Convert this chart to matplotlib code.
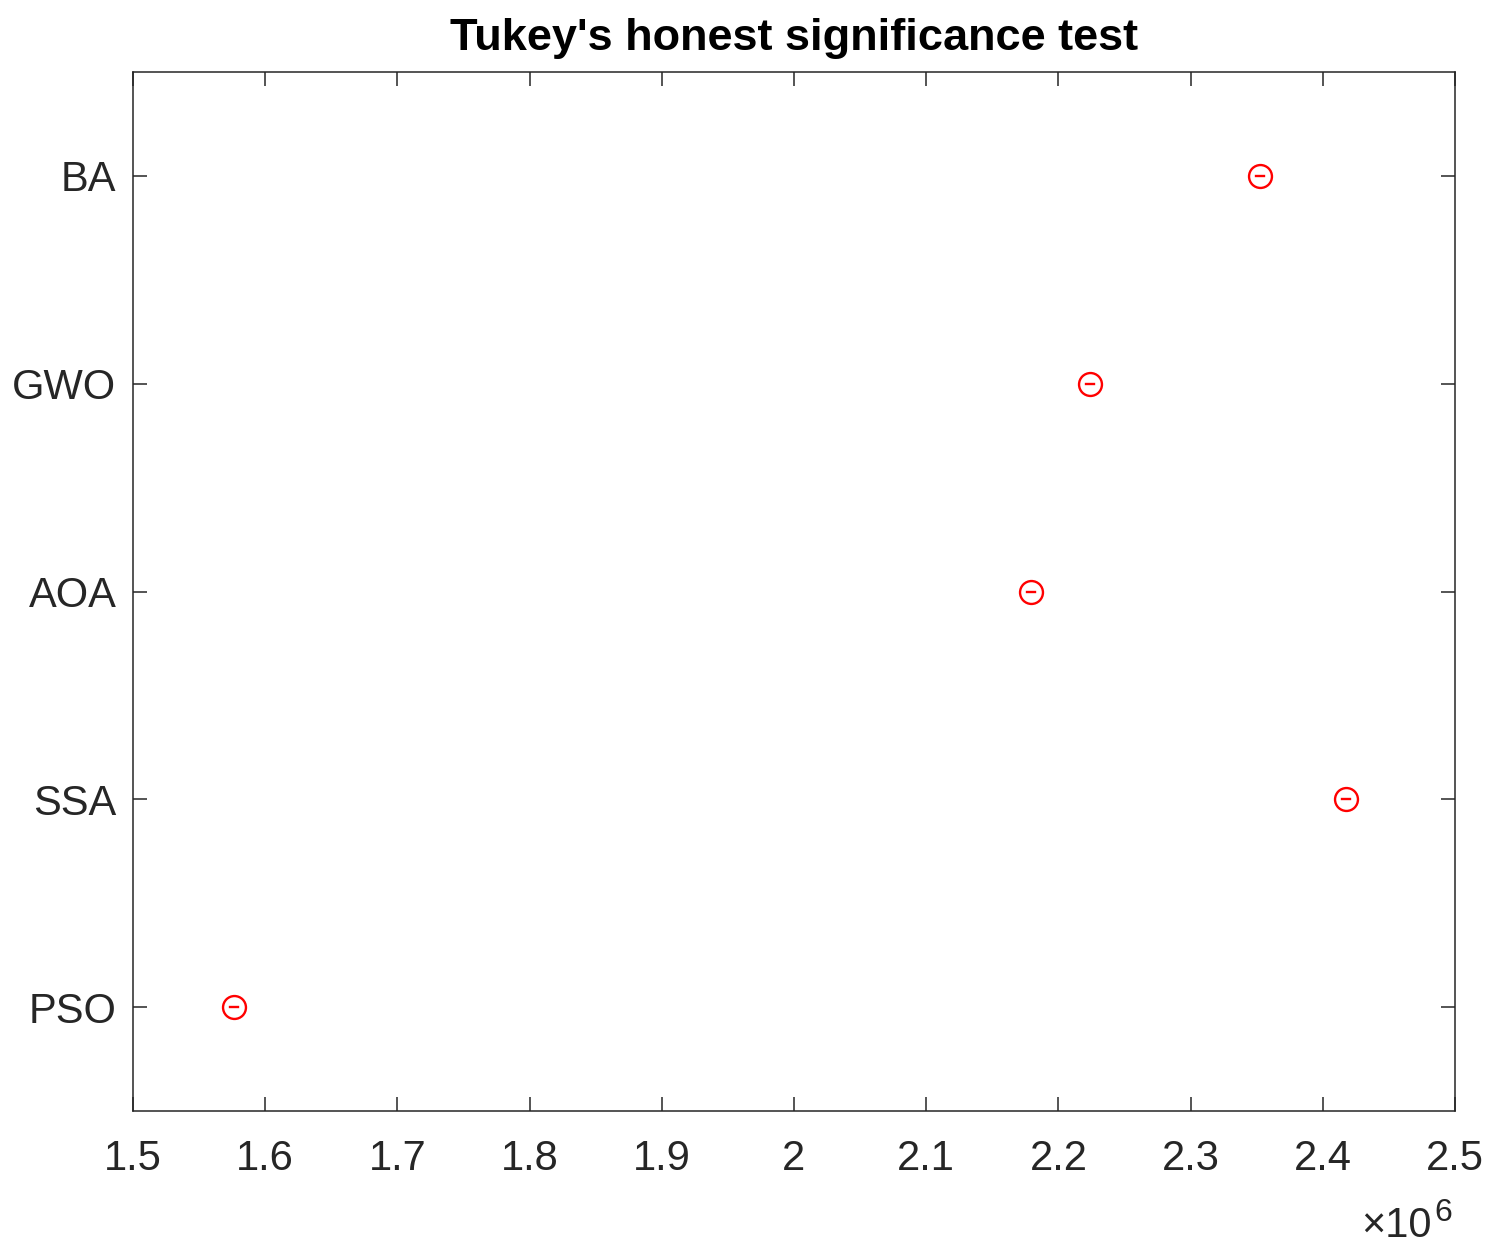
import matplotlib.pyplot as plt

plt.rcParams['font.family'] = ['Liberation Sans', 'DejaVu Sans']

groups = ['PSO', 'SSA', 'AOA', 'GWO', 'BA']
means = [1.5764e6, 2.4176e6, 2.1793e6, 2.2239e6, 2.3525e6]
half_width = [3000, 3000, 3000, 3000, 3000]
xticks = [1.5e6, 1.6e6, 1.7e6, 1.8e6, 1.9e6, 2.0e6, 2.1e6, 2.2e6, 2.3e6, 2.4e6, 2.5e6]

W, H = 1499, 1256
fig = plt.figure(figsize=(W / 100, H / 100), dpi=100)
ax = fig.add_axes([133 / W, 1 - 1111 / H, (1455 - 133) / W, (1111 - 72) / H])

ypos = list(range(1, len(groups) + 1))
for y, m, h in zip(ypos, means, half_width):
    ax.plot([m - h, m + h], [y, y], color='red', lw=1.7)
ax.plot(means, ypos, 'o', mfc='none', mec='red', ms=16.5, mew=1.7)

ax.set_xlim(1.5e6, 2.5e6)
ax.set_ylim(0.5, 5.5)
ax.set_xticks(xticks)
ax.set_xticklabels(['%g' % (v / 1e6) for v in xticks])
ax.set_yticks(ypos)
ax.set_yticklabels(groups)

ax.tick_params(direction='in', length=10, width=1.1, top=True, right=True,
               labelsize=30, colors='#262626')
ax.tick_params(axis='x', pad=20.5)
ax.tick_params(axis='y', pad=12)
for s in ax.spines.values():
    s.set_linewidth(1.1)
    s.set_color('#262626')

# exponent label, MATLAB style
fig.text(1432 / W, 1 - 1237 / H, '\u00d710', ha='right', va='baseline',
         fontsize=30, color='#262626')
fig.text(1434 / W, 1 - 1221 / H, '6', ha='left', va='baseline',
         fontsize=23, color='#262626')

fig.text(794 / W, 1 - 50 / H, "Tukey's honest significance test", ha='center',
         va='baseline', fontsize=32.5, fontweight='bold')

fig.savefig('out.png', dpi=100)
